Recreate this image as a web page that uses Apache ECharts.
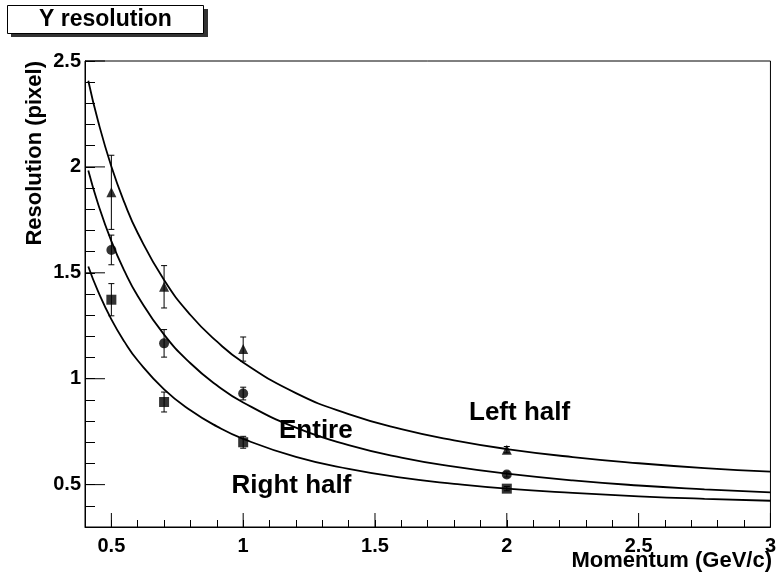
<!DOCTYPE html>
<html>
<head>
<meta charset="utf-8">
<script src="https://cdn.jsdelivr.net/npm/echarts@6/dist/echarts.min.js"></script>
<style>
  html, body { margin: 0; padding: 0; background: #fff; }
  #chart { width: 779px; height: 581px; }
</style>
</head>
<body>
<div id="chart"></div>
<script>
// Momentum points (GeV/c)
const momentum = [0.5, 0.7, 1.0, 2.0];

// Measured resolution (pixel) and errors
const leftHalf = [1.88, 1.434, 1.14, 0.665];
const leftHalfErr = [0.175, 0.10, 0.057, 0.015];
const entire = [1.608, 1.167, 0.93, 0.548];
const entireErr = [0.07, 0.065, 0.03, 0.012];
const rightHalf = [1.373, 0.89, 0.70, 0.481];
const rightHalfErr = [0.076, 0.047, 0.028, 0.01];

// Fitted curves sampled along momentum
const curveX = [0.4125, 0.45, 0.5, 0.55, 0.6, 0.7, 0.8, 0.9, 1.0, 1.2, 1.4, 1.6, 1.8, 2.0, 2.25, 2.5, 2.75, 3.0];
const leftFit = [2.407, 2.214, 2.002, 1.830, 1.688, 1.466, 1.301, 1.176, 1.077, 0.932, 0.833, 0.762, 0.709, 0.668, 0.630, 0.601, 0.578, 0.561];
const entireFit = [1.983, 1.824, 1.650, 1.508, 1.391, 1.208, 1.073, 0.969, 0.888, 0.769, 0.687, 0.628, 0.585, 0.552, 0.520, 0.496, 0.478, 0.463];
const rightFit = [1.530, 1.411, 1.280, 1.174, 1.086, 0.950, 0.851, 0.775, 0.716, 0.631, 0.574, 0.533, 0.504, 0.481, 0.461, 0.445, 0.433, 0.424];

// Major tick positions
const xMajorTicks = [0.5, 1, 1.5, 2, 2.5, 3];
const yMajorTicks = [0.5, 1, 1.5, 2, 2.5];

const X_MIN = 0.4, X_MAX = 3, Y_MIN = 0.3, Y_MAX = 2.5;
const FONT = '"Liberation Sans", Arial, Helvetica, sans-serif';

function zip(xs, ys) { return xs.map((x, i) => [x, ys[i]]); }
function zipErr(xs, ys, es) { return xs.map((x, i) => [x, ys[i] - es[i], ys[i] + es[i]]); }

function majorLabel(v) {
  const r = Math.round(v * 10);
  return r % 5 === 0 ? String(r / 10) : '';
}

const lineStyle = { stroke: '#000', lineWidth: 1 };

function errorBarItem(params, api) {
  const x = api.value(0);
  const lo = api.coord([x, api.value(1)]);
  const hi = api.coord([x, api.value(2)]);
  const cap = 3;
  return {
    type: 'group',
    children: [
      { type: 'line', shape: { x1: lo[0], y1: lo[1], x2: hi[0], y2: hi[1] }, style: lineStyle },
      { type: 'line', shape: { x1: lo[0] - cap, y1: lo[1], x2: lo[0] + cap, y2: lo[1] }, style: lineStyle },
      { type: 'line', shape: { x1: hi[0] - cap, y1: hi[1], x2: hi[0] + cap, y2: hi[1] }, style: lineStyle }
    ]
  };
}

// Long ticks at the labelled values, drawn inward from the axes
function xMajorTickItem(params, api) {
  const p = api.coord([api.value(0), Y_MIN]);
  return { type: 'line', shape: { x1: p[0], y1: p[1], x2: p[0], y2: p[1] - 14 }, style: lineStyle };
}
function yMajorTickItem(params, api) {
  const p = api.coord([X_MIN, api.value(0)]);
  return { type: 'line', shape: { x1: p[0], y1: p[1], x2: p[0] + 20, y2: p[1] }, style: lineStyle };
}

function fitLine(data) {
  return {
    type: 'line', data,
    showSymbol: false, symbol: 'none', smooth: 0.5,
    lineStyle: { color: '#000', width: 1.8 }, silent: true, z: 3
  };
}

function markers(data, symbol) {
  return {
    type: 'scatter', data, symbol, symbolSize: 10,
    itemStyle: { color: '#000' }, z: 5
  };
}

function errors(data) {
  return { type: 'custom', data, renderItem: errorBarItem, z: 4, silent: true };
}

const chart = echarts.init(document.getElementById('chart'), null, { renderer: 'canvas' });

chart.setOption({
  animation: false,
  backgroundColor: '#fff',
  title: {
    text: 'Y resolution',
    left: 7, top: 5,
    padding: [3, 32, 3, 32],
    backgroundColor: '#fff',
    borderColor: '#000',
    borderWidth: 1,
    z: 10,
    textStyle: { fontFamily: FONT, fontSize: 23, fontWeight: 'bold', color: '#000' }
  },
  graphic: [
    { type: 'rect', shape: { x: 11, y: 9, width: 197, height: 28 }, style: { fill: '#333' }, z: 1 },
    {
      type: 'text', x: 772, y: 561,
      style: { text: 'Momentum (GeV/c)', font: 'bold 22px ' + FONT, fill: '#000', align: 'right', verticalAlign: 'middle' }
    },
    {
      type: 'text', x: 34.5, y: 61, rotation: Math.PI / 2,
      style: { text: 'Resolution (pixel)', font: 'bold 22px ' + FONT, fill: '#000', align: 'right', verticalAlign: 'middle' }
    },
    {
      type: 'text', x: 469, y: 412.5,
      style: { text: 'Left half', font: 'bold 26px ' + FONT, fill: '#000', align: 'left', verticalAlign: 'middle' }
    },
    {
      type: 'text', x: 279, y: 430.5,
      style: { text: 'Entire', font: 'bold 26px ' + FONT, fill: '#000', align: 'left', verticalAlign: 'middle' }
    },
    {
      type: 'text', x: 231.5, y: 486,
      style: { text: 'Right half', font: 'bold 26px ' + FONT, fill: '#000', align: 'left', verticalAlign: 'middle' }
    }
  ],
  grid: {
    left: 85, top: 61, width: 687, height: 466,
    show: true, borderColor: '#000', borderWidth: 1, backgroundColor: 'transparent'
  },
  xAxis: {
    type: 'value', min: X_MIN, max: X_MAX, interval: 0.1, position: 'bottom',
    axisLine: { show: true, lineStyle: { color: '#000', width: 1 } },
    axisTick: { show: true, inside: true, length: 7, lineStyle: { color: '#000', width: 1 } },
    axisLabel: {
      show: true, margin: 9, formatter: majorLabel,
      fontFamily: FONT, fontSize: 20, fontWeight: 'bold', color: '#000'
    },
    splitLine: { show: false }
  },
  yAxis: {
    type: 'value', min: Y_MIN, max: Y_MAX, interval: 0.1, position: 'left',
    axisLine: { show: true, lineStyle: { color: '#000', width: 1 } },
    axisTick: { show: true, inside: true, length: 10, lineStyle: { color: '#000', width: 1 } },
    axisLabel: {
      show: true, margin: 4, formatter: majorLabel,
      fontFamily: FONT, fontSize: 20, fontWeight: 'bold', color: '#000'
    },
    splitLine: { show: false }
  },
  series: [
    { type: 'custom', data: xMajorTicks.map(v => [v]), renderItem: xMajorTickItem, silent: true, z: 2, clip: false },
    { type: 'custom', data: yMajorTicks.map(v => [X_MIN, v]), encode: { y: 1 }, renderItem: (p, api) => {
        const pt = api.coord([X_MIN, api.value(1)]);
        return { type: 'line', shape: { x1: pt[0], y1: pt[1], x2: pt[0] + 20, y2: pt[1] }, style: lineStyle };
      }, silent: true, z: 2, clip: false },
    fitLine(zip(curveX, leftFit)),
    fitLine(zip(curveX, entireFit)),
    fitLine(zip(curveX, rightFit)),
    errors(zipErr(momentum, leftHalf, leftHalfErr)),
    errors(zipErr(momentum, entire, entireErr)),
    errors(zipErr(momentum, rightHalf, rightHalfErr)),
    markers(zip(momentum, leftHalf), 'triangle'),
    markers(zip(momentum, entire), 'circle'),
    markers(zip(momentum, rightHalf), 'rect')
  ]
});
</script>
</body>
</html>
